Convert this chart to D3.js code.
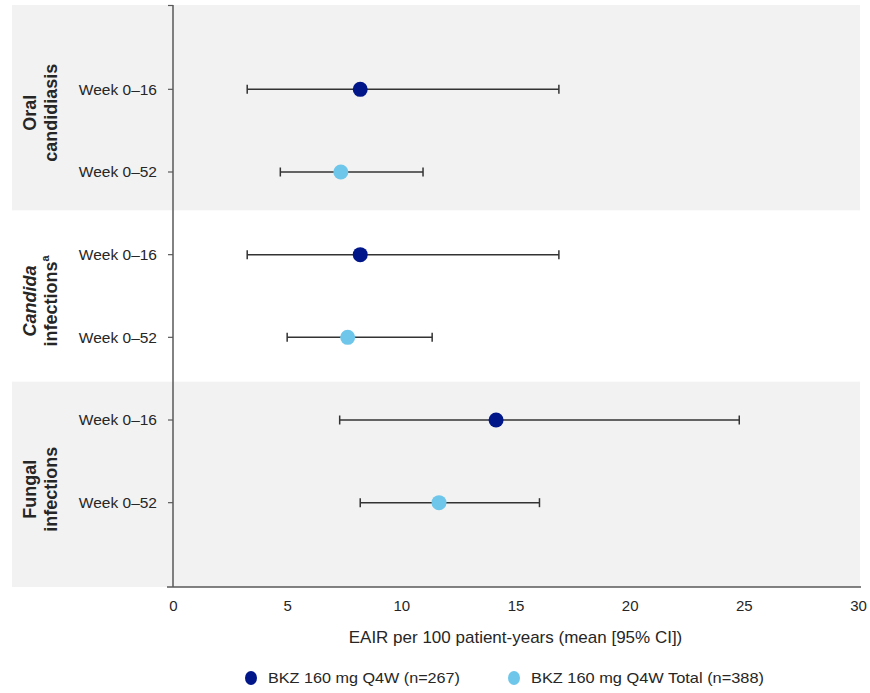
<!DOCTYPE html>
<html>
<head>
<meta charset="utf-8">
<script src="https://cdn.jsdelivr.net/npm/d3@7"></script>
<style>
  body { margin: 0; background: #fff; }
  svg text { font-family: "Liberation Sans", Arial, sans-serif; fill: #262626; }
</style>
</head>
<body>
<svg id="chart" width="870" height="693"></svg>
<script>
// data
var groups = ["Oral candidiasis", "Candida infections", "Fungal infections"];
var periods = ["Week 0\u201316", "Week 0\u201352"];
var means = [8.2, 7.35, 8.2, 7.65, 14.15, 11.65];
var lower = [3.25, 4.7, 3.25, 5.0, 7.3, 8.2];
var upper = [16.9, 10.95, 16.9, 11.35, 24.8, 16.05];
var seriesNames = ["BKZ 160 mg Q4W (n=267)", "BKZ 160 mg Q4W Total (n=388)"];
var seriesColors = ["#001689", "#6EC6EA"];
var xTicks = [0, 5, 10, 15, 20, 25, 30];

var svg = d3.select("#chart");

var rows = [];
groups.forEach(function(g, gi) {
    periods.forEach(function(p, pi) {
        var i = gi * 2 + pi;
        rows.push({group: gi, period: p, series: pi, mean: means[i], lo: lower[i], hi: upper[i], key: gi + "-" + pi});
    });
});

var plotLeft = 173, plotRight = 858, plotTop = 5, plotBottom = 587;

var x = d3.scaleLinear().domain([0, 30]).range([plotLeft, plotRight]);

// rows evenly spaced, one step of padding at top and bottom
var y = d3.scalePoint()
    .domain(rows.map(function(d) { return d.key; }))
    .range([plotTop, plotBottom])
    .padding(1.02);

function rowY(d) { return y(d.key); }

// band edges: roughly halfway between the groups (middle band a bit taller)
function bandTop(gi) {
    if (gi == 0) return plotTop;
    return (y(rows[gi * 2 - 1].key) + y(rows[gi * 2].key)) / 2 + (gi == 1 ? -3 : 3);
}
function bandBottom(gi) {
    if (gi == groups.length - 1) return plotBottom;
    return (y(rows[gi * 2 + 1].key) + y(rows[gi * 2 + 2].key)) / 2 + (gi == 0 ? -3 : 3);
}

// shaded bands for first and last groups
svg.selectAll(".bandBg")
    .data([0, 2])
    .enter()
    .append("rect")
    .classed("bandBg", true)
    .attr("x", 12)
    .attr("y", function(d) { return bandTop(d); })
    .attr("width", 860 - 12)
    .attr("height", function(d) { return bandBottom(d) - bandTop(d); })
    .attr("fill", "#f2f2f2");

// x axis
var xAxis = svg.append("g")
    .attr("transform", "translate(0," + plotBottom + ")")
    .call(d3.axisBottom(x).tickValues(xTicks).tickSize(0).tickPadding(13).tickFormat(d3.format("d")));
xAxis.select(".domain").remove();
xAxis.selectAll("text").attr("font-size", 15).attr("font-family", "Liberation Sans, Arial, sans-serif").attr("fill", "#262626");

svg.append("line")
    .attr("x1", 167).attr("x2", 861)
    .attr("y1", plotBottom).attr("y2", plotBottom)
    .attr("stroke", "#595959").attr("stroke-width", 1.5);

// y axis line + ticks
svg.append("line")
    .attr("x1", plotLeft).attr("x2", plotLeft)
    .attr("y1", plotTop).attr("y2", plotBottom)
    .attr("stroke", "#595959").attr("stroke-width", 1.5);

svg.append("line")
    .attr("x1", plotLeft - 5).attr("x2", plotLeft)
    .attr("y1", plotTop + 0.5).attr("y2", plotTop + 0.5)
    .attr("stroke", "#595959").attr("stroke-width", 1.2);

svg.selectAll(".yTick")
    .data(rows)
    .enter()
    .append("line")
    .classed("yTick", true)
    .attr("x1", plotLeft - 5).attr("x2", plotLeft)
    .attr("y1", rowY).attr("y2", rowY)
    .attr("stroke", "#595959").attr("stroke-width", 1.2);

svg.selectAll(".rowLabel")
    .data(rows)
    .enter()
    .append("text")
    .classed("rowLabel", true)
    .attr("x", plotLeft - 16)
    .attr("y", rowY)
    .attr("dy", "0.35em")
    .attr("text-anchor", "end")
    .attr("font-size", 15.5)
    .text(function(d) { return d.period; });

// group labels, rotated
var gl = svg.selectAll(".groupLabel")
    .data(groups)
    .enter()
    .append("text")
    .classed("groupLabel", true)
    .attr("transform", function(d, i) {
        return "translate(40," + ((bandTop(i) + bandBottom(i)) / 2 + 5) + ")rotate(-90)";
    })
    .attr("text-anchor", "middle")
    .attr("font-size", 18)
    .attr("font-weight", "bold");

gl.each(function(d, i) {
    var t = d3.select(this);
    var words = d.split(" ");
    var l1 = t.append("tspan").attr("x", 0).attr("dy", "-0.2em").text(words[0]);
    if (i == 1) l1.attr("font-style", "italic");
    t.append("tspan").attr("x", 0).attr("dy", "1.15em").text(words[1]);
    if (i == 1) {
        t.append("tspan").attr("font-size", 11).attr("dy", "-0.7em").text("a");
    }
});

// error bars
var ci = svg.selectAll(".ci")
    .data(rows)
    .enter()
    .append("g")
    .classed("ci", true);

ci.append("line")
    .attr("x1", function(d) { return x(d.lo); })
    .attr("x2", function(d) { return x(d.hi); })
    .attr("y1", rowY).attr("y2", rowY)
    .attr("stroke", "#333").attr("stroke-width", 1.5);

ci.selectAll(".cap")
    .data(function(d) { return [{v: d.lo, y: rowY(d)}, {v: d.hi, y: rowY(d)}]; })
    .enter()
    .append("line")
    .classed("cap", true)
    .attr("x1", function(d) { return x(d.v); })
    .attr("x2", function(d) { return x(d.v); })
    .attr("y1", function(d) { return d.y - 4.5; })
    .attr("y2", function(d) { return d.y + 4.5; })
    .attr("stroke", "#333").attr("stroke-width", 1.5);

ci.append("circle")
    .attr("cx", function(d) { return x(d.mean); })
    .attr("cy", rowY)
    .attr("r", 7.5)
    .attr("fill", function(d) { return seriesColors[d.series]; });

// axis title
svg.append("text")
    .attr("x", (plotLeft + plotRight) / 2)
    .attr("y", 643)
    .attr("text-anchor", "middle")
    .attr("font-size", 17)
    .text("EAIR per 100 patient-years (mean [95% CI])");

// legend
var legendX = [251, 514];
var legendW = [192, 233];
var lg = svg.selectAll(".legendItem")
    .data(seriesNames)
    .enter()
    .append("g")
    .classed("legendItem", true)
    .attr("transform", function(d, i) { return "translate(" + legendX[i] + ",678)"; });

lg.append("ellipse")
    .attr("rx", 6).attr("ry", 7)
    .attr("fill", function(d, i) { return seriesColors[i]; });

lg.append("text")
    .attr("x", 17)
    .attr("dy", "0.35em")
    .attr("font-size", 15)
    .attr("textLength", function(d, i) { return legendW[i]; })
    .attr("lengthAdjust", "spacingAndGlyphs")
    .text(function(d) { return d; });
</script>
</body>
</html>
